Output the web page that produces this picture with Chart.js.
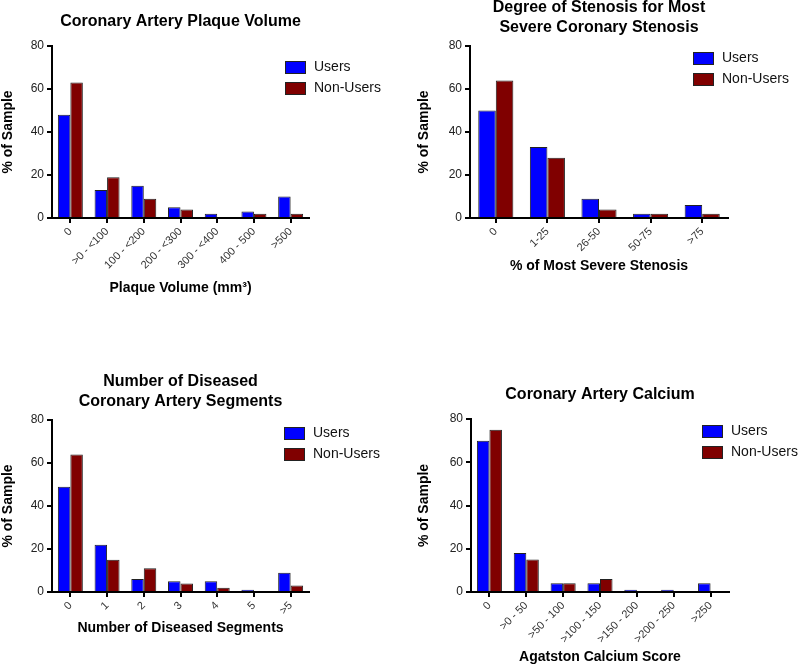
<!DOCTYPE html>
<html>
<head>
<meta charset="utf-8">
<script src="https://cdn.jsdelivr.net/npm/chart.js@4"></script>
<style>
  body { margin: 0; background: #fff; width: 800px; height: 667px; position: relative; overflow: hidden; }
  canvas { position: absolute; }
</style>
</head>
<body>
<canvas id="plaqueChart" width="400" height="300" style="left:0;top:0"></canvas>
<canvas id="stenosisChart" width="400" height="300" style="left:400px;top:0"></canvas>
<canvas id="segmentChart" width="400" height="297" style="left:0;top:370px"></canvas>
<canvas id="calciumChart" width="400" height="297" style="left:400px;top:370px"></canvas>
<script>
// Series
const seriesNames = ['Users', 'Non-Users'];
const seriesColors = ['#0000ff', '#800000'];

// Coronary Artery Plaque Volume
const plaqueLabels = ['0', '>0 - <100', '100 - <200', '200 - <300', '300 - <400', '400 - 500', '>500'];
const plaqueUsers = [48, 13, 15, 5, 2, 3, 10];
const plaqueNonUsers = [63, 19, 9, 4, 0, 2, 2];

// Degree of Stenosis
const stenosisLabels = ['0', '1-25', '26-50', '50-75', '>75'];
const stenosisUsers = [50, 33, 9, 2, 6];
const stenosisNonUsers = [64, 28, 4, 2, 2];

// Number of Diseased Segments
const segmentLabels = ['0', '1', '2', '3', '4', '5', '>5'];
const segmentUsers = [49, 22, 6, 5, 5, 1, 9];
const segmentNonUsers = [64, 15, 11, 4, 2, 0, 3];

// Coronary Artery Calcium
const calciumLabels = ['0', '>0 - 50', '>50 - 100', '>100 - 150', '>150 - 200', '>200 - 250', '>250'];
const calciumUsers = [70, 18, 4, 4, 1, 1, 4];
const calciumNonUsers = [75, 15, 4, 6, 0, 0, 0];

const yTicks = [0, 20, 40, 60, 80];

const FONT = '"Liberation Sans", Arial, Helvetica, sans-serif';

// draws the panel title (centred on the plot area) and the legend
const panelDecor = {
    id: 'panelDecor',
    afterDraw(chart, args, opts) {
        const ctx = chart.ctx;
        const area = chart.chartArea;
        ctx.save();
        ctx.fillStyle = '#000';
        ctx.font = 'bold 16px ' + FONT;
        ctx.textAlign = 'center';
        ctx.textBaseline = 'middle';
        const cx = (area.left + area.right) / 2;
        opts.title.forEach((line, i) => ctx.fillText(line, cx, opts.titleY + i * 20));

        chart.data.datasets.forEach((ds, i) => {
            const y = opts.legendY + i * 21;
            ctx.fillStyle = ds.backgroundColor;
            ctx.fillRect(opts.legendX, y, 20, 12);
            ctx.strokeStyle = '#222';
            ctx.lineWidth = 1;
            ctx.strokeRect(opts.legendX + 0.5, y + 0.5, 20, 12);
            ctx.fillStyle = '#111';
            ctx.font = '14px ' + FONT;
            ctx.textAlign = 'left';
            ctx.fillText(ds.label, opts.legendX + 29, y + 6.5);
        });
        ctx.restore();
    }
};

function makeChart(id, labels, users, nonUsers, g) {
    const ctx = document.getElementById(id).getContext('2d');
    return new Chart(ctx, {
        type: 'bar',
        data: {
            labels: labels,
            datasets: [users, nonUsers].map((d, i) => ({
                label: seriesNames[i],
                data: d,
                backgroundColor: seriesColors[i],
                borderColor: '#222',
                borderWidth: 1,
                borderSkipped: 'bottom',
                categoryPercentage: 0.68,
                barPercentage: 1
            }))
        },
        options: {
            responsive: false,
            animation: false,
            layout: { padding: g.padding },
            plugins: {
                legend: { display: false },
                tooltip: { enabled: false },
                panelDecor: { title: g.title, titleY: g.titleY, legendX: g.legendX, legendY: g.legendY }
            },
            scales: {
                x: {
                    afterFit: (s) => { s.height = g.xHeight; },
                    grid: { drawOnChartArea: false, offset: false, color: '#000', lineWidth: 2, tickLength: 5 },
                    border: { color: '#000', width: 2 },
                    ticks: {
                        autoSkip: false, minRotation: 45, maxRotation: 45, padding: 2,
                        color: '#333', font: { family: FONT, size: 11 }
                    },
                    title: {
                        display: true, text: g.xTitle, color: '#000',
                        font: { family: FONT, size: 14, weight: 'bold' },
                        padding: { top: 0, bottom: g.xTitlePad }
                    }
                },
                y: {
                    min: 0, max: 80,
                    afterFit: (s) => { s.width = g.yWidth; },
                    afterBuildTicks: (s) => { s.ticks = yTicks.map(v => ({ value: v })); },
                    grid: { drawOnChartArea: false, color: '#000', lineWidth: 2, tickLength: 5 },
                    border: { color: '#000', width: 2 },
                    ticks: { padding: 3, color: '#222', font: { family: FONT, size: 12 } },
                    title: {
                        display: true, text: '% of Sample', color: '#000',
                        font: { family: FONT, size: 14, weight: 'bold' },
                        padding: { top: g.yTitlePad, bottom: 0 }
                    }
                }
            }
        },
        plugins: [panelDecor]
    });
}

makeChart('plaqueChart', plaqueLabels, plaqueUsers, plaqueNonUsers, {
    padding: { top: 46, right: 91, bottom: 2, left: 0 },
    yWidth: 52, yTitlePad: 0, xHeight: 80, xTitlePad: 1,
    xTitle: 'Plaque Volume (mm\u00B3)',
    title: ['Coronary Artery Plaque Volume'], titleY: 22,
    legendX: 285, legendY: 61
});

makeChart('stenosisChart', stenosisLabels, stenosisUsers, stenosisNonUsers, {
    padding: { top: 46, right: 72, bottom: 22, left: 0 },
    yWidth: 70, yTitlePad: 16, xHeight: 60, xTitlePad: 3,
    xTitle: '% of Most Severe Stenosis',
    title: ['Degree of Stenosis for Most', 'Severe Coronary Stenosis'], titleY: 8,
    legendX: 293, legendY: 52
});

makeChart('segmentChart', segmentLabels, segmentUsers, segmentNonUsers, {
    padding: { top: 50, right: 91, bottom: 30, left: 0 },
    yWidth: 52, yTitlePad: 0, xHeight: 45, xTitlePad: 0,
    xTitle: 'Number of Diseased Segments',
    title: ['Number of Diseased', 'Coronary Artery Segments'], titleY: 12,
    legendX: 284, legendY: 57
});

makeChart('calciumChart', calciumLabels, calciumUsers, calciumNonUsers, {
    padding: { top: 49, right: 71, bottom: 1, left: 0 },
    yWidth: 71, yTitlePad: 16, xHeight: 74, xTitlePad: 0,
    xTitle: 'Agatston Calcium Score',
    title: ['Coronary Artery Calcium'], titleY: 25,
    legendX: 302, legendY: 55
});
</script>
</body>
</html>
